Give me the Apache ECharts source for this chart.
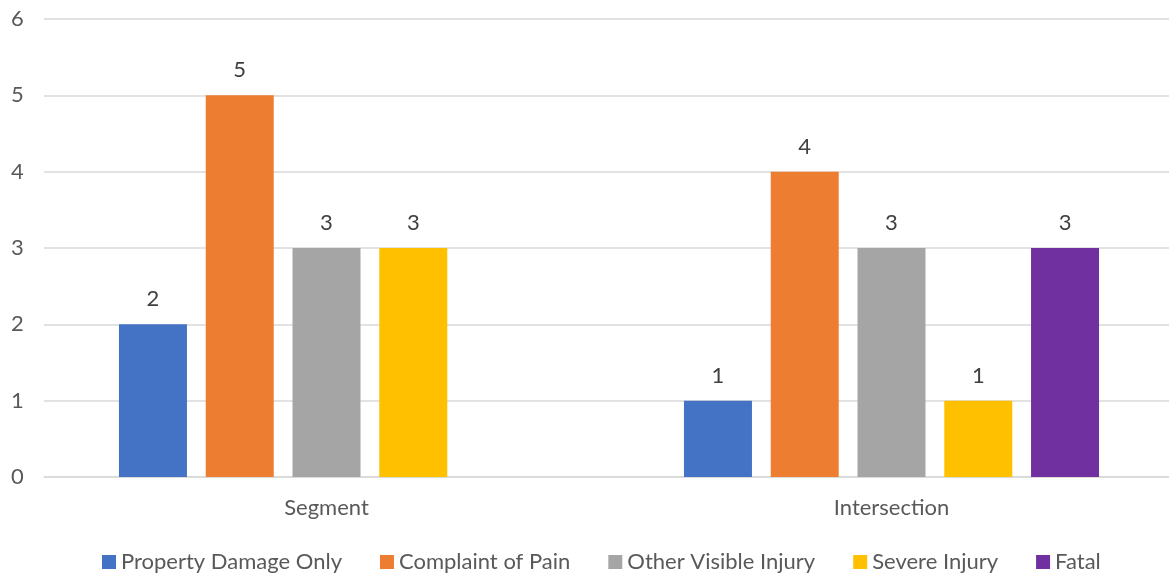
<!DOCTYPE html>
<html><head><meta charset="utf-8">
<script src="https://cdn.jsdelivr.net/npm/echarts@6/dist/echarts.min.js"></script>
<style>html,body{margin:0;padding:0;background:#fff;overflow:hidden}#c{width:1180px;height:573px}</style>
</head><body><div id="c"></div>
<script>
const categories = ["Segment", "Intersection"];
const seriesNames = ["Property Damage Only", "Complaint of Pain", "Other Visible Injury", "Severe Injury", "Fatal"];
const propertyDamage = [2, 1];
const complaintOfPain = [5, 4];
const otherVisible = [3, 3];
const severeInjury = [3, 1];
const fatal = [null, 3];
const yTicks = [0, 1, 2, 3, 4, 5, 6];
const colors = ["#4472C4", "#ED7D31", "#A5A5A5", "#FFC000", "#7030A0"];
const values = [propertyDamage, complaintOfPain, otherVisible, severeInjury, fatal];

const font = "Lato, 'Open Sans', sans-serif";
const chart = echarts.init(document.getElementById('c'));
chart.setOption({
  animation: false,
  textStyle: {fontFamily: font},
  grid: {left: 44, width: 1130, top: 19, bottom: 96, containLabel: false},
  legend: {
    bottom: 0, left: 102, padding: 0, itemWidth: 14, itemHeight: 14, itemGap: 38,
    icon: 'rect',
    textStyle: {fontSize: 22, color: '#595959', fontFamily: font},
    data: seriesNames
  },
  xAxis: {
    type: 'category', data: categories,
    axisLine: {show: true, lineStyle: {color: '#D9D9D9', width: 1.5}},
    axisTick: {show: false},
    axisLabel: {fontSize: 22, color: '#595959', margin: 20, fontFamily: font}
  },
  yAxis: {
    type: 'value', min: yTicks[0], max: yTicks[yTicks.length-1], interval: 1,
    axisLine: {show: false}, axisTick: {show: false},
    splitLine: {lineStyle: {color: '#D9D9D9', width: 1.5}},
    axisLabel: {fontSize: 22, color: '#595959', margin: 33, align: 'left', fontFamily: font}
  },
  series: seriesNames.map((n, i) => ({
    name: n, type: 'bar', data: values[i],
    itemStyle: {color: colors[i]},
    barWidth: 68, barGap: '27.6%',
    label: {show: true, position: 'top', fontSize: 22, color: '#404040', distance: 14, fontFamily: font}
  }))
});
</script></body></html>
